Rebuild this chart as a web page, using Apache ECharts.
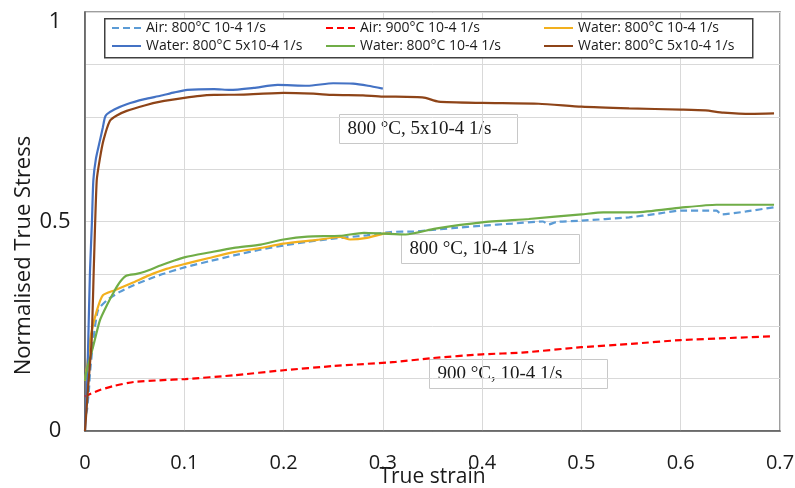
<!DOCTYPE html>
<html>
<head>
<meta charset="utf-8">
<script src="https://cdn.jsdelivr.net/npm/echarts@6/dist/echarts.min.js"></script>
<style>html,body{margin:0;padding:0;background:#fff}#c{width:795px;height:488px}</style>
</head>
<body>
<div id="c"></div>
<script>
var xTicks = ['0','0.1','0.2','0.3','0.4','0.5','0.6','0.7'];
var yTickLabels = ['0','0.5','1'];

var air800 = [[0.001,0.04],[0.002,0.05],[0.004,0.10],[0.005,0.138],[0.008,0.209],[0.013,0.288],[0.022,0.312],[0.035,0.332],[0.049,0.348],[0.075,0.372],[0.101,0.391],[0.125,0.405],[0.15,0.419],[0.175,0.432],[0.203,0.444],[0.225,0.452],[0.25,0.459],[0.284,0.467],[0.308,0.475],[0.33,0.476],[0.346,0.479],[0.37,0.484],[0.4,0.49],[0.43,0.495],[0.461,0.50],[0.467,0.493],[0.475,0.499],[0.5,0.502],[0.548,0.51],[0.575,0.518],[0.6,0.526],[0.636,0.526],[0.641,0.517],[0.666,0.524],[0.694,0.534]];
var air900 = [[0,0.082],[0.002,0.085],[0.015,0.098],[0.03,0.108],[0.049,0.117],[0.075,0.121],[0.101,0.124],[0.15,0.133],[0.2,0.145],[0.25,0.155],[0.313,0.165],[0.35,0.174],[0.4,0.183],[0.44,0.187],[0.5,0.2],[0.55,0.208],[0.6,0.217],[0.65,0.222],[0.691,0.226]];
var water800Orange = [[0,0.12],[0.002,0.153],[0.006,0.23],[0.012,0.288],[0.018,0.324],[0.03,0.336],[0.049,0.355],[0.065,0.372],[0.082,0.387],[0.101,0.399],[0.125,0.413],[0.15,0.427],[0.175,0.436],[0.2,0.447],[0.234,0.456],[0.257,0.463],[0.267,0.457],[0.284,0.461],[0.301,0.471],[0.308,0.472]];
var water5Blue = [[0,0],[0.002,0.10],[0.0033,0.217],[0.005,0.38],[0.007,0.50],[0.0084,0.598],[0.011,0.65],[0.015,0.693],[0.018,0.725],[0.02,0.748],[0.022,0.756],[0.03,0.768],[0.042,0.78],[0.06,0.792],[0.076,0.80],[0.09,0.808],[0.103,0.814],[0.13,0.816],[0.146,0.814],[0.17,0.819],[0.194,0.826],[0.224,0.824],[0.25,0.83],[0.27,0.829],[0.285,0.824],[0.30,0.817]];
var water800Green = [[0,0.12],[0.001,0.137],[0.008,0.20],[0.015,0.264],[0.022,0.30],[0.030,0.336],[0.036,0.358],[0.042,0.371],[0.052,0.375],[0.06,0.38],[0.076,0.395],[0.09,0.407],[0.101,0.415],[0.125,0.426],[0.15,0.437],[0.177,0.445],[0.2,0.457],[0.224,0.464],[0.257,0.466],[0.281,0.473],[0.301,0.471],[0.323,0.469],[0.353,0.483],[0.4,0.498],[0.447,0.506],[0.5,0.517],[0.522,0.522],[0.555,0.522],[0.6,0.533],[0.636,0.540],[0.694,0.540]];
var water5Brown = [[0,0],[0.003,0.10],[0.0067,0.217],[0.009,0.40],[0.0118,0.598],[0.015,0.65],[0.0185,0.693],[0.025,0.74],[0.032,0.753],[0.042,0.764],[0.06,0.777],[0.076,0.786],[0.1,0.795],[0.116,0.80],[0.13,0.802],[0.16,0.803],[0.2,0.807],[0.23,0.805],[0.25,0.802],[0.28,0.801],[0.3,0.798],[0.313,0.798],[0.335,0.797],[0.343,0.795],[0.356,0.786],[0.4,0.783],[0.457,0.781],[0.5,0.774],[0.548,0.770],[0.6,0.767],[0.625,0.765],[0.643,0.76],[0.671,0.757],[0.694,0.758]];

var names = ['Air: 800°C 10-4 1/s','Air: 900°C 10-4 1/s','Water: 800°C 10-4 1/s','Water: 800°C 5x10-4 1/s','Water: 800°C 10-4 1/s\u200b','Water: 800°C 5x10-4 1/s\u200b'];
var annotations = ['800 °C, 5x10-4 1/s','800 °C, 10-4 1/s','900 °C, 10-4 1/s'];

var chart = echarts.init(document.getElementById('c'), null, {renderer:'canvas'});
var sans = 'Open Sans';
function mk(name, data, color, dashed){
  return {name:name, type:'line', data:data, symbol:'none', showSymbol:false, smooth:0.2,
    lineStyle:{color:color, width:2.2, type: dashed ? [7,4] : 'solid'},
    itemStyle:{color:color}, z:2};
}
function legendCol(left, items){
  return {orient:'vertical', left:left, top:21, padding:0, itemGap:4, itemWidth:29, itemHeight:14,
    data:items, z:5, formatter:function(n){return n.replace(/\u200b/g,'');},
    itemStyle:{opacity:0},
    textStyle:{fontFamily:sans, fontSize:14, color:'#1a1a1a', lineHeight:14}};
}
function box(x,y,text){
  return {type:'group', left:x, top:y, z:6, children:[
    {type:'rect', shape:{x:0,y:0,width:178,height:29}, style:{fill:'#fff', stroke:'#c8c8c8', lineWidth:1}},
    {type:'text', x:8, y:15, style:{text:text, font:'19px "Liberation Serif"', fill:'#1a1a1a', verticalAlign:'middle'}}
  ]};
}
chart.setOption({
  animation:false,
  backgroundColor:'#fff',
  grid:{left:85, right:15, top:12, bottom:57, show:true, borderColor:'#7f7f7f', borderWidth:1.5, outerBoundsMode:'none', containLabel:false},
  xAxis:{type:'value', min:0, max:0.7, interval:0.1,
    name:'True strain', nameLocation:'middle', nameGap:36, nameMoveOverlap:false,
    nameTextStyle:{fontFamily:sans, fontSize:21, color:'#1a1a1a'},
    axisLine:{lineStyle:{color:'#595959', width:1.5}}, axisTick:{show:false},
    axisLabel:{margin:22, fontFamily:sans, fontSize:20, color:'#1a1a1a',
      formatter:function(v){return xTicks[Math.round(v*10)];}},
    splitLine:{lineStyle:{color:'#d9d9d9', width:1}}},
  yAxis:{type:'value', min:0, max:1, interval:0.125,
    name:'Normalised True Stress', nameLocation:'middle', nameGap:50, nameMoveOverlap:false,
    nameTextStyle:{fontFamily:sans, fontSize:22, color:'#1a1a1a', padding:[0,68,0,0]},
    axisLine:{show:true, lineStyle:{color:'#595959', width:1.5}}, axisTick:{show:false},
    axisLabel:{margin:30, align:'center', fontFamily:sans, fontSize:22, color:'#1a1a1a',
      formatter:function(v){var k=v*2; if(Math.abs(k-Math.round(k))>1e-9) return ''; var i=Math.round(k); return i===2 ? '{t|'+yTickLabels[i]+'}' : yTickLabels[i];},
      rich:{t:{fontFamily:sans, fontSize:22, color:'#1a1a1a', padding:[20,0,0,0]}}},
    splitLine:{lineStyle:{color:'#d9d9d9', width:1}}},
  legend:[
    legendCol(111,[names[0],names[3]]),
    legendCol(325,[names[1],names[4]]),
    legendCol(543,[names[2],names[5]])
  ],
  graphic:[
    {type:'rect', left:104, top:18, z:3, shape:{width:648,height:39}, style:{fill:'#fff', stroke:'#404040', lineWidth:1.5}},
    box(339,114,annotations[0]),
    box(401,234,annotations[1]),
    box(429,359,annotations[2])
  ],
  series:[
    mk(names[0], air800, '#5B9BD5', true),
    mk(names[1], air900, '#FF0000', true),
    mk(names[2], water800Orange, '#F2B01E', false),
    mk(names[3], water5Blue, '#4472C4', false),
    mk(names[4], water800Green, '#70AD47', false),
    mk(names[5], water5Brown, '#8E4418', false)
  ]
});
</script>
</body>
</html>
